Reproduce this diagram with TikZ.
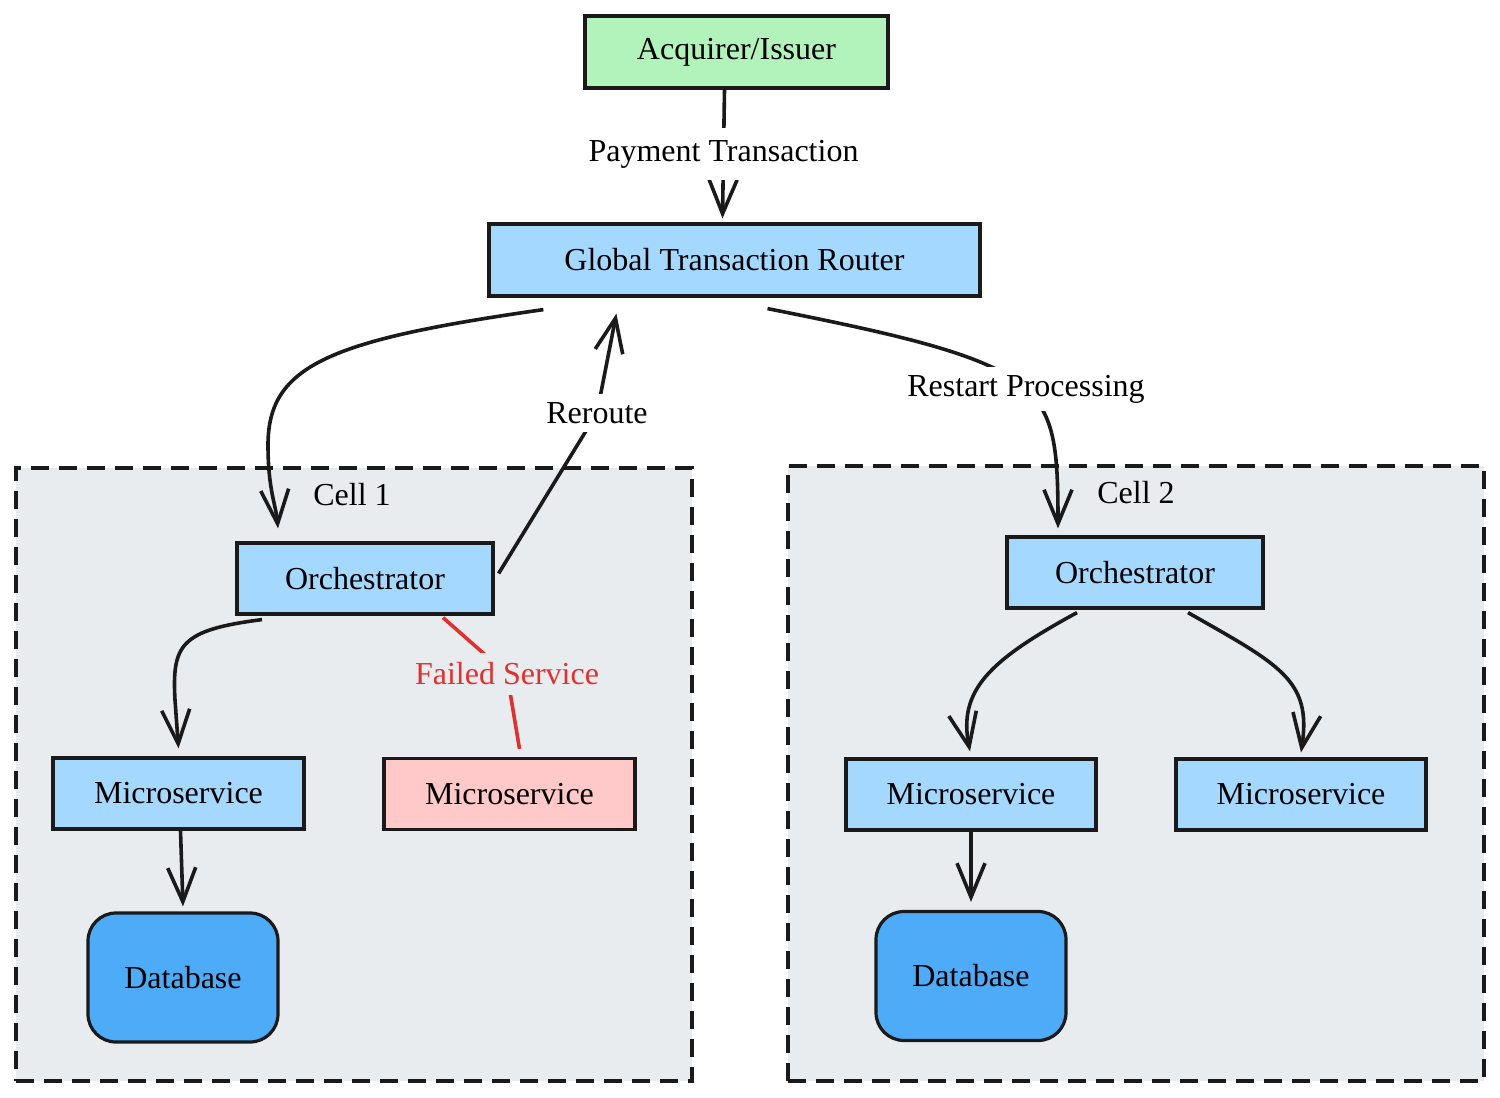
\documentclass[tikz,border=0pt]{standalone}
\usepackage{fontspec}
\setmainfont{Liberation Serif}
\usetikzlibrary{arrows.meta, positioning}

\definecolor{ink}{HTML}{1A1A1A}
\definecolor{acqgreen}{HTML}{B2F2BB}
\definecolor{svcblue}{HTML}{A5D8FF}
\definecolor{failpink}{HTML}{FFC9C9}
\definecolor{dbblue}{HTML}{4DABF7}
\definecolor{cellgray}{HTML}{E9ECEF}
\definecolor{failred}{HTML}{E03131}

\begin{document}
\begin{tikzpicture}[
    x=1pt, y=-1pt,
    box/.style={rectangle, draw=ink, line width=3.2pt, inner sep=0pt, text=black, font=\fontsize{32}{38}\selectfont},
    svcbox/.style={box, fill=svcblue, minimum width=251pt, minimum height=71pt},
    dbbox/.style={box, fill=dbblue, rounded corners=28pt, minimum width=190pt, minimum height=129pt},
    cellbox/.style={rectangle, draw=ink, fill=cellgray, line width=3.2pt, dash pattern=on 18pt off 10pt},
    lbl/.style={inner xsep=3pt, inner ysep=8pt, text=black, font=\fontsize{32}{38}\selectfont},
    arc/.style={draw=ink, line width=3.6pt, -{Straight Barb[length=34pt, width=28pt]}},
    failarc/.style={draw=failred, line width=3.6pt},
    ]
  \useasboundingbox (0,0) rectangle (1500,1098);

  \node[cellbox, minimum width=676pt, minimum height=613pt] (cell1) at (354,774.5) {};
  \node[cellbox, minimum width=696pt, minimum height=615pt] (cell2) at (1136,773.5) {};
  \node[lbl] (c1lbl) at (352,495) {Cell 1};
  \node[lbl] (c2lbl) at (1136,493) {Cell 2};

  \node[box, fill=acqgreen, minimum width=303pt, minimum height=72pt] (acq) at (736.5,52) {Acquirer/Issuer};
  \node[box, fill=svcblue, minimum width=491pt, minimum height=72pt] (gtr) at (734.5,260) {Global Transaction Router};

  \node[svcbox, minimum width=256pt] (orch1) at (365,578.5) {Orchestrator};
  \node[svcbox] (ms1) at (178.5,793.5) {Microservice};
  \node[svcbox, fill=failpink] (msf) at (509.5,794) {Microservice};
  \node[dbbox] (db1) at (183,977.5) {Database};

  \node[svcbox, minimum width=256pt] (orch2) at (1135,572.5) {Orchestrator};
  \node[svcbox, minimum width=250pt] (ms2l) at (971,794.5) {Microservice};
  \node[svcbox, minimum width=250pt] (ms2r) at (1301,794.5) {Microservice};
  \node[dbbox] (db2) at (971,976) {Database};

  \draw[arc] ([xshift=-12pt]acq.south) -- ([xshift=-12pt,yshift=4pt]gtr.north)
    node[lbl, fill=white, midway, inner ysep=12pt] {Payment Transaction};

  \draw[arc] ([xshift=56pt,yshift=-12pt]gtr.south west) .. controls (330,340) and (268,365) .. (268,445)
    .. controls (268,490) and (276,505) .. ([xshift=-87pt,yshift=13pt]orch1.north);
  \draw[arc] ([xshift=4pt,yshift=5pt]orch1.east) -- (597,413) node[lbl, fill=white] {Reroute}
    -- ([xshift=129pt,yshift=-16pt]gtr.south west);
  \draw[arc] ([xshift=33pt,yshift=-11pt]gtr.south) .. controls (900,335) and (990,355) .. (1026,389)
    node[lbl, fill=white] {Restart Processing}
    .. controls (1055,416) and (1058,450) .. ([xshift=-77pt,yshift=7pt]orch2.north);

  \draw[arc] ([xshift=-103pt,yshift=-4pt]orch1.south) .. controls (180,630) and (172,645) .. (175,700)
    -- ([yshift=8pt]ms1.north);
  \draw[failarc] ([xshift=78pt,yshift=-2pt]orch1.south) -- (507,674)
    node[lbl, fill=cellgray, inner xsep=2pt, inner ysep=10pt, text=failred] {Failed Service}
    -- ([xshift=10pt,yshift=8pt]msf.north);
  \draw[arc] ([xshift=2pt]ms1.south) -- ([yshift=5pt]db1.north);

  \draw[arc] ([xshift=-58pt,yshift=-3pt]orch2.south) .. controls (990,660) and (958,690) .. ([xshift=-1pt,yshift=6pt]ms2l.north);
  \draw[arc] ([xshift=53pt,yshift=-3pt]orch2.south) .. controls (1280,665) and (1312,680) .. ([yshift=5pt]ms2r.north);
  \draw[arc] (ms2l.south) -- ([yshift=8pt]db2.north);
\end{tikzpicture}
\end{document}
